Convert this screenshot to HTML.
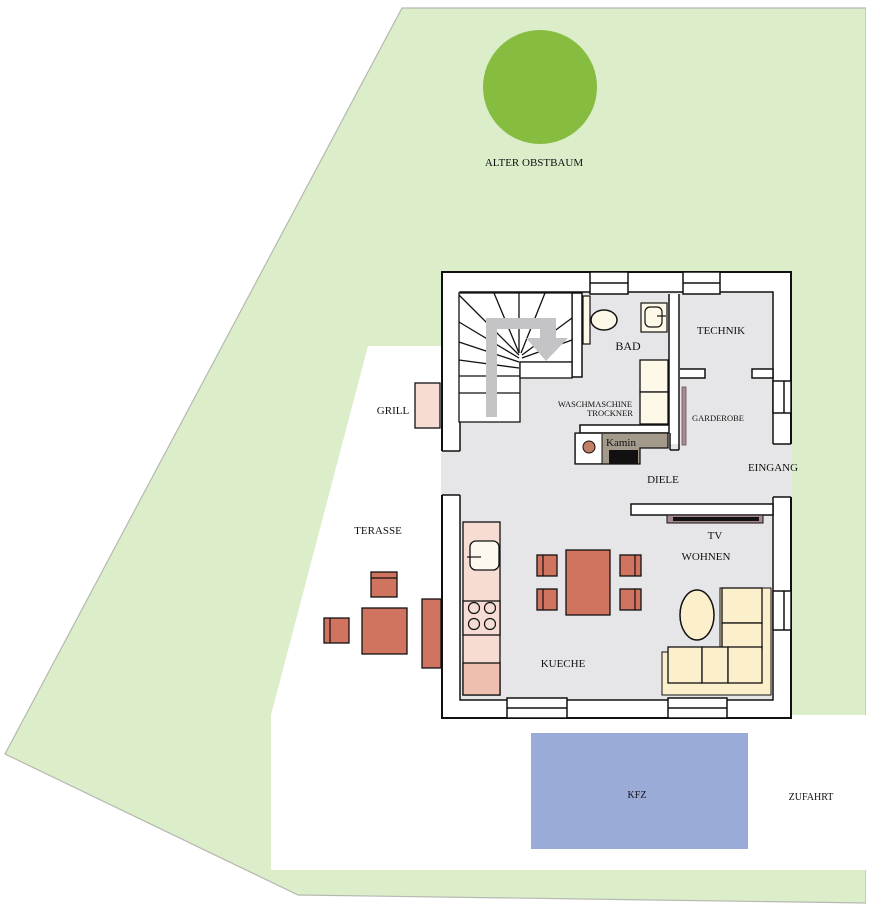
<!DOCTYPE html>
<html><head><meta charset="utf-8"><style>
html,body{margin:0;padding:0;background:#fff;}
svg{display:block}
text{font-family:"Liberation Serif",serif;fill:#111;}
</style></head><body>
<svg width="871" height="905" viewBox="0 0 871 905" xmlns="http://www.w3.org/2000/svg">
<polygon points="402,8 866,8 866,903 298,895 5,754" fill="#dcedca" stroke="#b5b9b0" stroke-width="1.2"/>
<rect x="866" y="0" width="5" height="905" fill="#fff"/>
<polygon points="368,346 442,346 442,715 871,715 871,870 271,870 271,715" fill="#fff"/>
<circle cx="540" cy="87" r="57" fill="#86bd40"/>
<text x="534" y="166" font-size="11" text-anchor="middle">ALTER OBSTBAUM</text>

<rect x="442" y="272" width="349" height="446" fill="#fff" stroke="#111" stroke-width="2"/>
<rect x="460" y="292" width="313" height="408" fill="#e6e6e8" stroke="#111" stroke-width="1.5"/>
<rect x="441" y="451" width="20" height="44" fill="#e6e6e8"/>
<line x1="442" y1="451" x2="460" y2="451" stroke="#111" stroke-width="1.5"/>
<line x1="442" y1="495" x2="460" y2="495" stroke="#111" stroke-width="1.5"/>
<rect x="772" y="444" width="20" height="53" fill="#e6e6e8"/>
<line x1="773" y1="444" x2="791" y2="444" stroke="#111" stroke-width="1.5"/>
<line x1="773" y1="497" x2="791" y2="497" stroke="#111" stroke-width="1.5"/>

<g fill="#fff" stroke="#111" stroke-width="1.5">
<rect x="590" y="272" width="38" height="22"/><line x1="590" y1="283" x2="628" y2="283"/>
<rect x="683" y="272" width="37" height="22"/><line x1="683" y1="283" x2="720" y2="283"/>
<rect x="507" y="698" width="60" height="20"/><line x1="507" y1="708" x2="567" y2="708"/>
<rect x="668" y="698" width="59" height="20"/><line x1="668" y1="708" x2="727" y2="708"/>
<rect x="773" y="381" width="18" height="32"/><line x1="784" y1="381" x2="784" y2="413"/>
<rect x="773" y="591" width="18" height="39"/><line x1="784" y1="591" x2="784" y2="630"/>
</g>

<g fill="#fff" stroke="#111" stroke-width="1.5">
<rect x="572" y="293" width="10" height="84"/>
<rect x="679" y="369" width="26" height="9"/>
<rect x="752" y="369" width="21" height="9"/>
<rect x="580" y="425" width="90" height="8"/>
<rect x="631" y="504" width="142" height="11"/>
</g>
<rect x="669" y="294" width="11" height="150" fill="#fff"/>
<line x1="669" y1="294" x2="669" y2="433" stroke="#111" stroke-width="1.5"/>
<line x1="679" y1="294" x2="679" y2="450" stroke="#111" stroke-width="1.5"/>
<line x1="670" y1="450" x2="679" y2="450" stroke="#111" stroke-width="1.5"/>
<line x1="670" y1="433" x2="670" y2="450" stroke="#111" stroke-width="1.5"/>

<!-- stairs -->
<g stroke="#111" stroke-width="1.3" fill="none">
<path d="M459,293 L572,293 L572,362 L520,362 L520,422 L459,422 Z" fill="#fff"/>
<rect x="520" y="362" width="52" height="16" fill="#fff"/>
<line x1="459" y1="393" x2="520" y2="393"/>
<line x1="459" y1="376" x2="520" y2="376"/>
<line x1="459" y1="360" x2="519" y2="368"/>
<line x1="459" y1="342" x2="519" y2="362"/>
<line x1="459" y1="322" x2="519" y2="358"/>
<line x1="459" y1="295" x2="519" y2="355"/>
<line x1="494" y1="293" x2="519" y2="353"/>
<line x1="519" y1="293" x2="519" y2="353"/>
<line x1="545" y1="293" x2="521" y2="353"/>
<line x1="572" y1="318" x2="522" y2="355"/>
<line x1="572" y1="340" x2="522" y2="358"/>
</g>
<path d="M486,417 L486,318 L556,318 L556,338 L568,338 L546,361 L526,338 L540,338 L540,329 L497,329 L497,417 Z" fill="#c4c4c6"/>

<rect x="583" y="296" width="7" height="48" fill="#fdf8e8" stroke="#111" stroke-width="1.2"/>
<ellipse cx="604" cy="320" rx="13" ry="10" fill="#fdf8e8" stroke="#111" stroke-width="1.5"/>
<rect x="641" y="303" width="26" height="29" fill="#fdf8e8" stroke="#111" stroke-width="1.2"/>
<rect x="645" y="307" width="17" height="20" rx="5" fill="#fdf8e8" stroke="#111" stroke-width="1.2"/>
<line x1="657" y1="316" x2="666" y2="316" stroke="#111" stroke-width="1.2"/>
<rect x="640" y="360" width="28" height="32" fill="#fdf8e8" stroke="#111" stroke-width="1.3"/>
<rect x="640" y="392" width="28" height="32" fill="#fdf8e8" stroke="#111" stroke-width="1.3"/>
<rect x="682" y="387" width="4" height="58" fill="#b08a92" stroke="#555" stroke-width="0.8"/>

<!-- kamin -->
<path d="M575,433 L668,433 L668,448 L640,448 L640,464 L575,464 Z" fill="#a39a8c" stroke="#111" stroke-width="1.3"/>
<rect x="576" y="434" width="26" height="29" fill="#fff"/>
<line x1="602" y1="434" x2="602" y2="464" stroke="#111" stroke-width="1"/>
<rect x="609" y="450" width="29" height="14" fill="#111"/>
<circle cx="589" cy="447" r="6" fill="#c27e68" stroke="#111" stroke-width="1"/>
<text x="606" y="446" font-size="11">Kamin</text>

<rect x="667" y="515" width="96" height="8" fill="#a58890" stroke="#111" stroke-width="1"/>
<rect x="673" y="517" width="86" height="4" fill="#111"/>

<rect x="463" y="522" width="37" height="173" fill="#f6dcd3" stroke="#111" stroke-width="1.3"/>
<rect x="470" y="541" width="29" height="29" rx="6" fill="#fdf8ee" stroke="#111" stroke-width="1.3"/>
<line x1="467" y1="557" x2="481" y2="557" stroke="#111" stroke-width="1.2"/>
<rect x="463" y="601" width="37" height="34" fill="#f6dcd3" stroke="#111" stroke-width="1.3"/>
<g fill="#f6dcd3" stroke="#111" stroke-width="1.2">
<circle cx="474" cy="608" r="5.5"/><circle cx="490" cy="608" r="5.5"/>
<circle cx="474" cy="624" r="5.5"/><circle cx="490" cy="624" r="5.5"/>
</g>
<rect x="463" y="663" width="37" height="32" fill="#eebfae" stroke="#111" stroke-width="1.3"/>

<g fill="#d0735f" stroke="#111" stroke-width="1.3">
<rect x="566" y="550" width="44" height="65"/>
<rect x="537" y="555" width="20" height="21"/><rect x="537" y="589" width="20" height="21"/>
<rect x="620" y="555" width="21" height="21"/><rect x="620" y="589" width="21" height="21"/>
<rect x="371" y="572" width="26" height="25"/>
<rect x="362" y="608" width="45" height="46"/>
<rect x="324" y="618" width="25" height="25"/>
<rect x="422" y="599" width="19" height="69"/>
</g>
<g stroke="#111" stroke-width="1.2">
<line x1="543" y1="555" x2="543" y2="576"/><line x1="543" y1="589" x2="543" y2="610"/>
<line x1="635" y1="555" x2="635" y2="576"/><line x1="635" y1="589" x2="635" y2="610"/>
<line x1="371" y1="578" x2="397" y2="578"/><line x1="330" y1="618" x2="330" y2="643"/>
</g>

<!-- living -->
<path d="M720,588 L771,588 L771,695 L662,695 L662,652 L720,652 Z" fill="#fcefcc" stroke="#111" stroke-width="1"/>
<g fill="#fcefcc" stroke="#111" stroke-width="1.3">
<rect x="722" y="588" width="40" height="35"/>
<rect x="722" y="623" width="40" height="26"/>
<rect x="668" y="647" width="34" height="36"/>
<rect x="702" y="647" width="26" height="36"/>
<rect x="728" y="647" width="34" height="36"/>
</g>
<ellipse cx="697" cy="615" rx="17" ry="25" fill="#fcefcc" stroke="#111" stroke-width="1.5"/>

<rect x="415" y="383" width="25" height="45" fill="#f6dcd3" stroke="#111" stroke-width="1.3"/>
<rect x="531" y="733" width="217" height="116" fill="#9aabd8"/>

<g font-size="11">
<text x="628" y="350" text-anchor="middle" font-size="12">BAD</text>
<text x="721" y="334" text-anchor="middle">TECHNIK</text>
<text x="595" y="407" text-anchor="middle" font-size="8.5">WASCHMASCHINE</text>
<text x="610" y="416" text-anchor="middle" font-size="8.5">TROCKNER</text>
<text x="718" y="421" text-anchor="middle" font-size="8.5">GARDEROBE</text>
<text x="773" y="471" text-anchor="middle">EINGANG</text>
<text x="663" y="483" text-anchor="middle">DIELE</text>
<text x="393" y="414" text-anchor="middle">GRILL</text>
<text x="378" y="534" text-anchor="middle">TERASSE</text>
<text x="715" y="539" text-anchor="middle">TV</text>
<text x="706" y="560" text-anchor="middle">WOHNEN</text>
<text x="563" y="667" text-anchor="middle">KUECHE</text>
<text x="637" y="798" text-anchor="middle" font-size="10">KFZ</text>
<text x="811" y="800" text-anchor="middle" font-size="10">ZUFAHRT</text>
</g>
</svg>
</body></html>
